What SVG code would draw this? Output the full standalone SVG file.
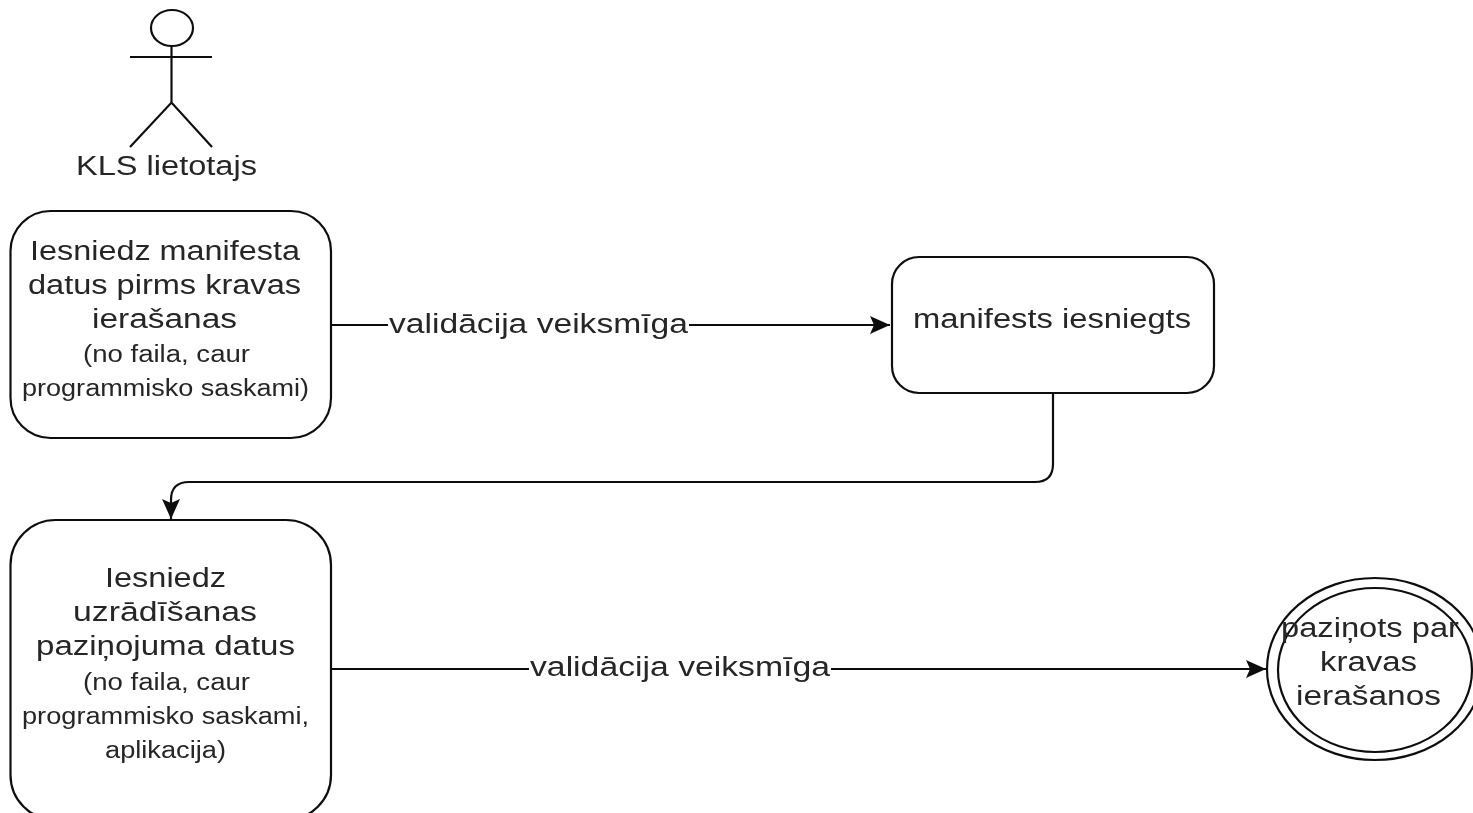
<svg xmlns="http://www.w3.org/2000/svg" width="1473" height="813" viewBox="0 0 1473 813">
<style>
.s{fill:#fff;stroke:#111;stroke-width:2.2}
.c{fill:none;stroke:#111;stroke-width:2.2}
text{font-family:"Liberation Sans",Arial,sans-serif;fill:#262626;font-size:27px}
.m{font-size:23px}
</style>
<defs>
<marker id="a" viewBox="0 0 21 20" refX="20" refY="10" markerWidth="21" markerHeight="20" markerUnits="userSpaceOnUse" orient="auto"><path d="M0 1L20 10L0 19L4 10Z" fill="#111"/></marker>
<filter id="soft" x="0" y="0" width="100%" height="100%" filterUnits="objectBoundingBox"><feGaussianBlur stdDeviation="0.45"/></filter>
</defs>
<rect width="1473" height="813" fill="#fff"/>
<g filter="url(#soft)">
<rect width="1473" height="813" fill="#fff"/>
<g id="connectors">
<path class="c" d="M331 325H890" marker-end="url(#a)"/>
<path class="c" d="M1053 393V464Q1053 482 1035 482H189Q171 482 171 500V519" marker-end="url(#a)"/>
<path class="c" d="M331 669H1266" marker-end="url(#a)"/>
</g>
<g id="actor">
<ellipse class="s" cx="172" cy="28" rx="21" ry="18"/>
<path class="c" d="M171.500 46V102.500M130 57H212M130 147L171.500 102.500L212 147"/>
<text x="76" y="175" textLength="181" lengthAdjust="spacingAndGlyphs">KLS lietotajs</text>
</g>
<g id="node-manifest-data">
<rect class="s" x="10.500" y="211" width="320.500" height="227" rx="40" ry="40"/>
<text x="30" y="260" textLength="270" lengthAdjust="spacingAndGlyphs">Iesniedz manifesta</text>
<text x="28" y="294" textLength="273" lengthAdjust="spacingAndGlyphs">datus pirms kravas</text>
<text x="92" y="328" textLength="145" lengthAdjust="spacingAndGlyphs">ierašanas</text>
<text class="m" x="83" y="362" textLength="167" lengthAdjust="spacingAndGlyphs">(no faila, caur</text>
<text class="m" x="22" y="396" textLength="287" lengthAdjust="spacingAndGlyphs">programmisko saskami)</text>
</g>
<g id="node-manifest-submitted">
<rect class="s" x="892" y="257" width="322" height="136" rx="27" ry="27"/>
<text x="913" y="328" textLength="278" lengthAdjust="spacingAndGlyphs">manifests iesniegts</text>
</g>
<g id="node-arrival-data">
<rect class="s" x="10.500" y="520" width="320.500" height="300" rx="45" ry="45"/>
<text x="105" y="587" textLength="121" lengthAdjust="spacingAndGlyphs">Iesniedz</text>
<text x="73" y="621" textLength="184" lengthAdjust="spacingAndGlyphs">uzrādīšanas</text>
<text x="36" y="655" textLength="259" lengthAdjust="spacingAndGlyphs">paziņojuma datus</text>
<text class="m" x="83" y="690" textLength="167" lengthAdjust="spacingAndGlyphs">(no faila, caur</text>
<text class="m" x="22" y="724" textLength="287" lengthAdjust="spacingAndGlyphs">programmisko saskami,</text>
<text class="m" x="105" y="758" textLength="121" lengthAdjust="spacingAndGlyphs">aplikacija)</text>
</g>
<g id="node-notified">
<ellipse class="s" cx="1375" cy="669" rx="108" ry="91"/>
<ellipse class="s" cx="1375" cy="670" rx="97" ry="82"/>
<text x="1281" y="637" textLength="178" lengthAdjust="spacingAndGlyphs">paziņots par</text>
<text x="1320" y="671" textLength="97" lengthAdjust="spacingAndGlyphs">kravas</text>
<text x="1296" y="705" textLength="145" lengthAdjust="spacingAndGlyphs">ierašanos</text>
</g>
<g id="edge-labels">
<rect x="388" y="310" width="301" height="30" fill="#fff"/>
<text x="389" y="333" textLength="299" lengthAdjust="spacingAndGlyphs">validācija veiksmīga</text>
<rect x="529" y="654" width="302" height="30" fill="#fff"/>
<text x="530" y="676" textLength="300" lengthAdjust="spacingAndGlyphs">validācija veiksmīga</text>
</g>
</g>
</svg>
